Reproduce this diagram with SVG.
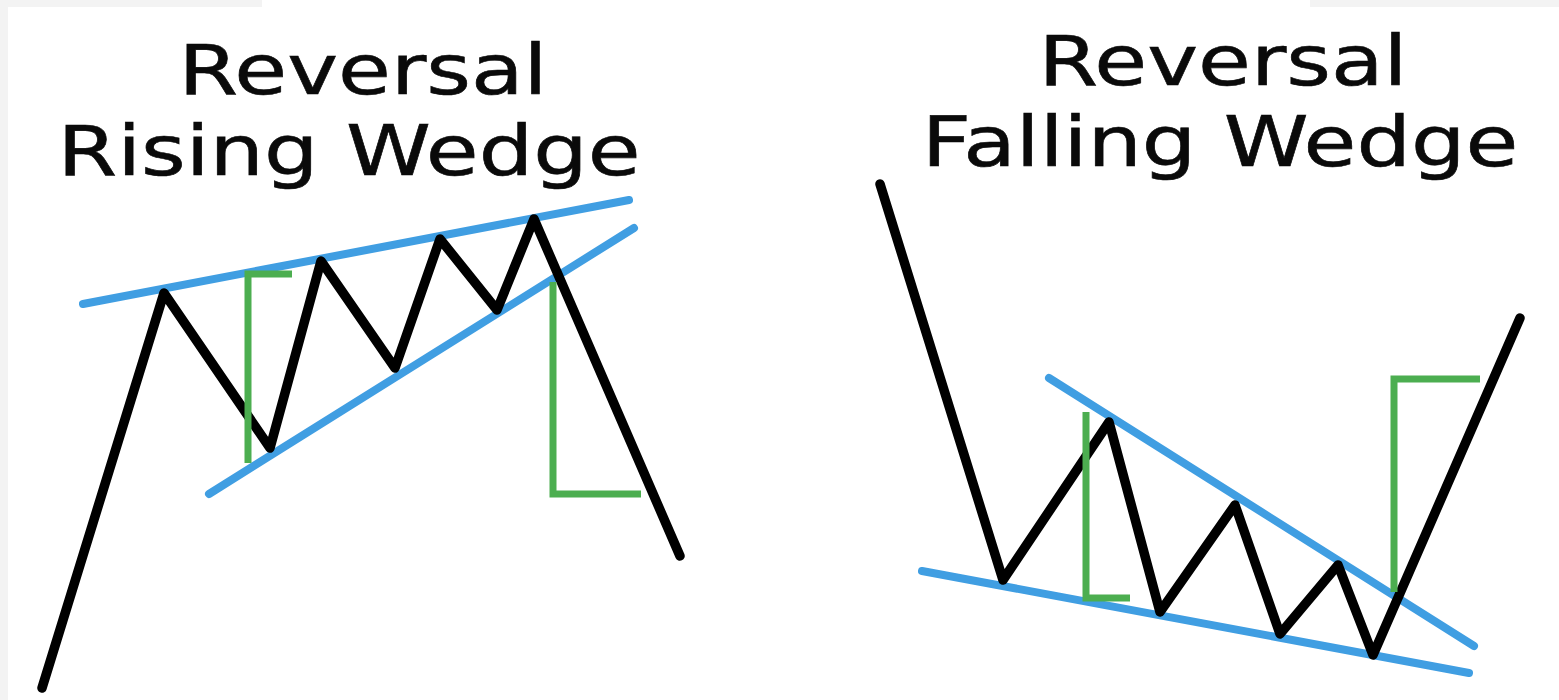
<svg xmlns="http://www.w3.org/2000/svg" width="1559" height="700" viewBox="0 0 1559 700">
<style>
.bg{fill:#ffffff}
.edge{fill:#f3f3f3}
.title{font-family:"DejaVu Sans",Verdana,sans-serif;font-size:69px;fill:#0a0a0a;stroke:#0a0a0a;stroke-width:0.6;text-anchor:middle}
.price{fill:none;stroke:#000000;stroke-width:9.5;stroke-linecap:round;stroke-linejoin:round}
.trend{fill:none;stroke:#409ee2;stroke-width:8;stroke-linecap:round}
.measure{fill:none;stroke:#4cae50;stroke-width:7;stroke-linecap:butt;stroke-linejoin:miter}
</style>
<rect class="bg" x="0" y="0" width="1559" height="700"/>
<rect class="edge" x="0" y="0" width="8" height="700"/>
<rect class="edge" x="0" y="0" width="262" height="7"/>
<rect class="edge" x="1310" y="0" width="249" height="7"/>

<g id="rising-wedge">
  <text class="title" transform="translate(363,94) scale(1.245,1)">Reversal</text>
  <text class="title" transform="translate(349,175) scale(1.245,1)">Rising Wedge</text>
  <line class="trend" x1="83" y1="304" x2="629" y2="200"/>
  <line class="trend" x1="209" y1="494" x2="634" y2="228"/>
  <polyline class="price" points="42,688 164,293 270,448 321,261 395,368 440,239 497,310 534,219 680,556"/>
  <polyline class="measure" points="292,274 248,274 248,463"/>
  <polyline class="measure" points="553,282 553,494 641,494"/>
</g>

<g id="falling-wedge">
  <text class="title" transform="translate(1223,85) scale(1.245,1)">Reversal</text>
  <text class="title" transform="translate(1220,166) scale(1.245,1)">Falling Wedge</text>
  <line class="trend" x1="1049" y1="378" x2="1474" y2="646"/>
  <line class="trend" x1="922" y1="571" x2="1469" y2="673"/>
  <polyline class="price" points="880,184 1003,580 1109,422 1160,612 1235,505 1280,634 1338,565 1373,655 1520,318"/>
  <polyline class="measure" points="1086,412 1086,598 1130,598"/>
  <polyline class="measure" points="1394,592 1394,379 1480,379"/>
</g>
</svg>
